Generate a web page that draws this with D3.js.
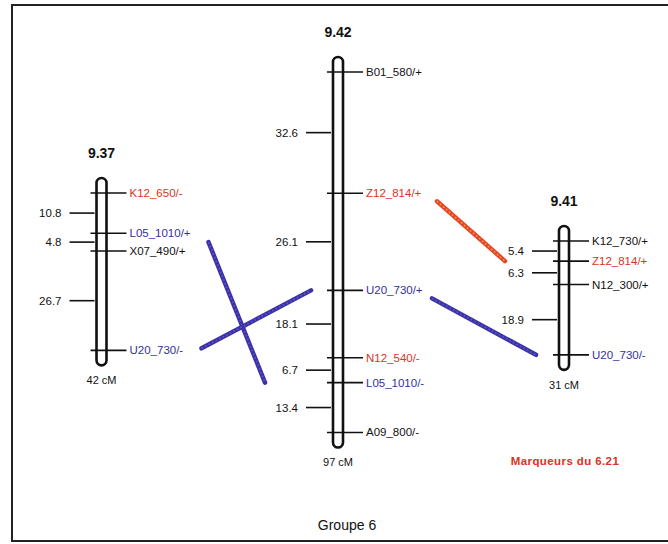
<!DOCTYPE html>
<html lang="fr">
  <head>
    <meta charset="UTF-8" />
    <title>Groupe 6</title>
    <script src="https://d3js.org/d3.v7.min.js"></script>
    <style>
      body { margin: 0; background: #fff; }
      text { font-family: "Liberation Sans", Arial, sans-serif; }
    </style>
  </head>
  <body>
    <svg width="668" height="544"></svg>
    <script>
      // chromosome names and total lengths (cM)
      const chromNames = ["9.37", "9.42", "9.41"];
      const chromLengths = [42, 97, 31];

      // markers of each chromosome, top to bottom
      const markers937 = ["K12_650/-", "L05_1010/+", "X07_490/+", "U20_730/-"];
      const markers942 = ["B01_580/+", "Z12_814/+", "U20_730/+", "N12_540/-", "L05_1010/-", "A09_800/-"];
      const markers941 = ["K12_730/+", "Z12_814/+", "N12_300/+", "U20_730/-"];

      // intervals between successive markers (cM)
      const gaps937 = [10.8, 4.8, 26.7];
      const gaps942 = [32.6, 26.1, 18.1, 6.7, 13.4];
      const gaps941 = [5.4, 6.3, 18.9];

      // marker colour class: r = red, b = blue, k = black
      const kind937 = ["r", "b", "k", "b"];
      const kind942 = ["k", "r", "b", "r", "b", "k"];
      const kind941 = ["k", "r", "k", "b"];

      // homologous links: [from chrom, from marker, to chrom, to marker, colour]
      const links = [
        [0, "L05_1010/+", 1, "L05_1010/-", "b"],
        [0, "U20_730/-", 1, "U20_730/+", "b"],
        [1, "Z12_814/+", 2, "Z12_814/+", "o"],
        [1, "U20_730/+", 2, "U20_730/-", "b"]
      ];

      const groupTitle = "Groupe 6";
      const noteText = "Marqueurs du 6.21";

      // ---- layout ----
      const chromCx = [101.5, 338, 564]; // chromosome centres
      const firstY = [193, 72, 241]; // y of first marker
      const pxPerCM = 3.72;
      const tubeW = 10;
      // per-link offsets [x start from chrom centre, dy start, x end from chrom centre]
      const linkOffsets = [
        [107, 9, -73],
        [100, -2, -27],
        [99, 8, -59],
        [94, 8, -28]
      ];

      const colors = { r: "#e0301e", b: "#33309a", k: "#111" };

      const svg = d3.select("svg");

      // frame
      svg.append("rect")
        .attr("x", 12).attr("y", 5)
        .attr("width", 680).attr("height", 536)
        .attr("fill", "none").attr("stroke", "#222").attr("stroke-width", 2);

      const chroms = [
        { markers: markers937, gaps: gaps937, kind: kind937 },
        { markers: markers942, gaps: gaps942, kind: kind942 },
        { markers: markers941, gaps: gaps941, kind: kind941 }
      ];

      chroms.forEach(function (c, i) {
        // cumulative positions
        let pos = [0];
        c.gaps.forEach(function (g) { pos.push(pos[pos.length - 1] + g); });
        c.pos = pos;
        c.y = d3.scaleLinear().domain([0, 100]).range([firstY[i], firstY[i] + 100 * pxPerCM]);
        const cx = chromCx[i];
        const x0 = cx - tubeW / 2;
        const g = svg.append("g");
        const top = c.y(0) - 15;
        const bottom = c.y(pos[pos.length - 1]) + 15;

        // marker lines
        g.selectAll("line.marker")
          .data(c.markers)
          .enter().append("line")
          .attr("x1", x0 - 6).attr("x2", x0 + tubeW + 20)
          .attr("y1", function (d, j) { return c.y(pos[j]); })
          .attr("y2", function (d, j) { return c.y(pos[j]); })
          .attr("stroke", "#111").attr("stroke-width", 1.6);

        // tube
        g.append("rect")
          .attr("x", x0).attr("y", top)
          .attr("width", tubeW).attr("height", bottom - top)
          .attr("rx", tubeW / 2).attr("ry", tubeW / 2)
          .attr("fill", "none").attr("stroke", "#111").attr("stroke-width", 2.6);

        // marker labels
        g.selectAll("text.marker")
          .data(c.markers)
          .enter().append("text")
          .attr("x", x0 + tubeW + 23)
          .attr("y", function (d, j) { return c.y(pos[j]); })
          .attr("dy", "0.35em")
          .attr("font-size", 11.5)
          .attr("fill", function (d, j) { return colors[c.kind[j]]; })
          .text(function (d) { return d; });

        // distance ticks
        g.selectAll("line.dist")
          .data(c.gaps)
          .enter().append("line")
          .attr("x1", x0 - 27).attr("x2", x0 - 2)
          .attr("y1", function (d, j) { return c.y((pos[j] + pos[j + 1]) / 2); })
          .attr("y2", function (d, j) { return c.y((pos[j] + pos[j + 1]) / 2); })
          .attr("stroke", "#111").attr("stroke-width", 1.6);

        g.selectAll("text.dist")
          .data(c.gaps)
          .enter().append("text")
          .attr("x", x0 - 35)
          .attr("y", function (d, j) { return c.y((pos[j] + pos[j + 1]) / 2); })
          .attr("dy", "0.35em")
          .attr("text-anchor", "end")
          .attr("font-size", 11.5)
          .attr("fill", "#111")
          .text(function (d) { return d.toFixed(1); });

        // title and length
        g.append("text")
          .attr("x", cx).attr("y", top - 20)
          .attr("text-anchor", "middle")
          .attr("font-size", 14).attr("font-weight", "bold")
          .attr("fill", "#111")
          .text(chromNames[i]);

        g.append("text")
          .attr("x", cx).attr("y", bottom + 19)
          .attr("text-anchor", "middle")
          .attr("font-size", 11)
          .attr("fill", "#111")
          .text(chromLengths[i] + " cM");
      });

      // homology links
      links.forEach(function (l, k) {
        const a = chroms[l[0]], b = chroms[l[2]];
        const ya = a.y(a.pos[a.markers.indexOf(l[1])]) + linkOffsets[k][1];
        const yb = b.y(b.pos[b.markers.indexOf(l[3])]);
        const xa = chromCx[l[0]] + linkOffsets[k][0];
        const xb = chromCx[l[2]] + linkOffsets[k][2];
        const base = l[4] === "o" ? "#e5462a" : "#3a33a8";
        const dots = l[4] === "o" ? "#f4a640" : "#6a55c8";
        svg.append("line")
          .attr("x1", xa).attr("y1", ya).attr("x2", xb).attr("y2", yb)
          .attr("stroke", base).attr("stroke-width", 4.5)
          .attr("stroke-linecap", "round");
        svg.append("line")
          .attr("x1", xa).attr("y1", ya).attr("x2", xb).attr("y2", yb)
          .attr("stroke", dots).attr("stroke-width", 1.6)
          .attr("stroke-dasharray", "1.5 2.5");
      });

      svg.append("text")
        .attr("x", 347).attr("y", 530)
        .attr("text-anchor", "middle")
        .attr("font-size", 14).attr("fill", "#111")
        .text(groupTitle);

      svg.append("text")
        .attr("x", 565).attr("y", 465)
        .attr("text-anchor", "middle")
        .attr("font-size", 11.5).attr("font-weight", "bold")
        .attr("letter-spacing", 0.4)
        .attr("fill", "#e0301e")
        .text(noteText);
    </script>
  </body>
</html>
